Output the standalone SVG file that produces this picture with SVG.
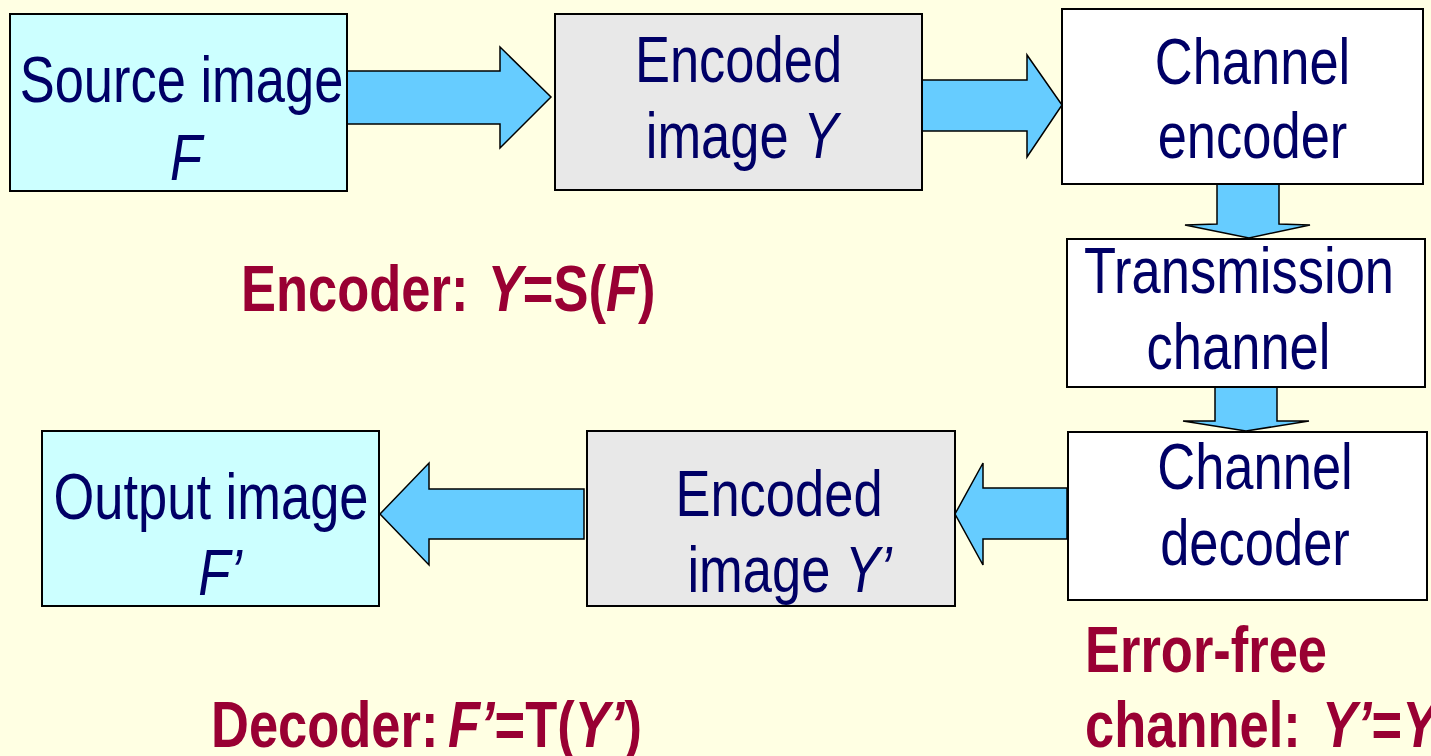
<svg xmlns="http://www.w3.org/2000/svg" width="1431" height="756" viewBox="0 0 1431 756">
<style>
.bg{fill:#FFFFE3}
.box{stroke:#000;stroke-width:2}
.cyan{fill:#CCFFFF}
.gray{fill:#E8E8E8}
.white{fill:#FFFFFF}
.arr{fill:#66CCFF;stroke:#000;stroke-width:1.5;stroke-linejoin:miter}
.t{font-family:"Liberation Sans Narrow","Liberation Sans",Arial,sans-serif;font-size:64px;fill:#000066;text-anchor:middle}
.r{font-family:"Liberation Sans Narrow","Liberation Sans",Arial,sans-serif;font-size:64px;font-weight:bold;fill:#990033}
.i{font-style:italic}
</style>
<rect class="bg" x="0" y="0" width="1431" height="756"/>
<g id="connectors">
<polygon class="arr" points="347,71 500,71 500,47 551,97 500,148 500,124 347,124"/>
<polygon class="arr" points="922,80 1027,80 1027,55 1062,105 1027,157 1027,131 922,131"/>
<polygon class="arr" points="1217,184 1279,184 1279,224 1310,225 1249,238 1185,225 1217,224"/>
<polygon class="arr" points="1215,387 1277,387 1277,421 1309,421 1246,431 1183,421 1215,421"/>
<polygon class="arr" points="1067,488 983,488 983,463 955,514 983,565 983,539 1067,539"/>
<polygon class="arr" points="584,489 429,489 429,463 380,514 429,565 429,539 584,539"/>
</g>
<g id="source">
<rect class="box cyan" x="10" y="14" width="337" height="177"/>
<text class="t" transform="matrix(0.82 0 0 1 181.5 0)" x="0" y="102">Source image</text>
<text class="t i" transform="matrix(0.82 0 0 1 186 0)" x="0" y="180">F</text>
</g>
<g id="encoded">
<rect class="box gray" x="555" y="14" width="367" height="176"/>
<text class="t" transform="matrix(0.82 0 0 1 738.5 0)" x="0" y="82">Encoded</text>
<text class="t" transform="matrix(0.82 0 0 1 742 0)" x="0" y="158">image <tspan class="i">Y</tspan></text>
</g>
<g id="chenc">
<rect class="box white" x="1062" y="9" width="361" height="175"/>
<text class="t" transform="matrix(0.82 0 0 1 1252.5 0)" x="0" y="84">Channel</text>
<text class="t" transform="matrix(0.82 0 0 1 1252.5 0)" x="0" y="158">encoder</text>
</g>
<g id="trans">
<rect class="box white" x="1067" y="239" width="358" height="148"/>
<text class="t" transform="matrix(0.82 0 0 1 1239 0)" x="0" y="293">Transmission</text>
<text class="t" transform="matrix(0.82 0 0 1 1238.5 0)" x="0" y="369">channel</text>
</g>
<g id="chdec">
<rect class="box white" x="1068" y="432" width="359" height="168"/>
<text class="t" transform="matrix(0.82 0 0 1 1255 0)" x="0" y="489">Channel</text>
<text class="t" transform="matrix(0.82 0 0 1 1255 0)" x="0" y="565">decoder</text>
</g>
<g id="encoded2">
<rect class="box gray" x="587" y="431" width="368" height="175"/>
<text class="t" transform="matrix(0.82 0 0 1 779 0)" x="0" y="516">Encoded</text>
<text class="t" transform="matrix(0.82 0 0 1 789.5 0)" x="0" y="592">image <tspan class="i">Y’</tspan></text>
</g>
<g id="output">
<rect class="box cyan" x="42" y="431" width="337" height="175"/>
<text class="t" transform="matrix(0.82 0 0 1 211 0)" x="0" y="519">Output image</text>
<text class="t i" transform="matrix(0.82 0 0 1 220 0)" x="0" y="595">F’</text>
</g>
<g id="labels">
<text class="r" transform="matrix(0.82 0 0 1 241 0)" x="0" y="311">Encoder: <tspan class="i" x="301">Y</tspan>=S(<tspan class="i">F</tspan>)</text>
<text class="r" transform="matrix(0.82 0 0 1 211 0)" x="0" y="747">Decoder: <tspan class="i" x="289">F’</tspan>=T(<tspan class="i">Y’</tspan>)</text>
<text class="r" transform="matrix(0.82 0 0 1 1085 0)" x="0" y="672">Error-free</text>
<text class="r" transform="matrix(0.82 0 0 1 1085 0)" x="0" y="747">channel: <tspan class="i" x="289">Y’</tspan>=<tspan class="i">Y</tspan></text>
</g>
</svg>
